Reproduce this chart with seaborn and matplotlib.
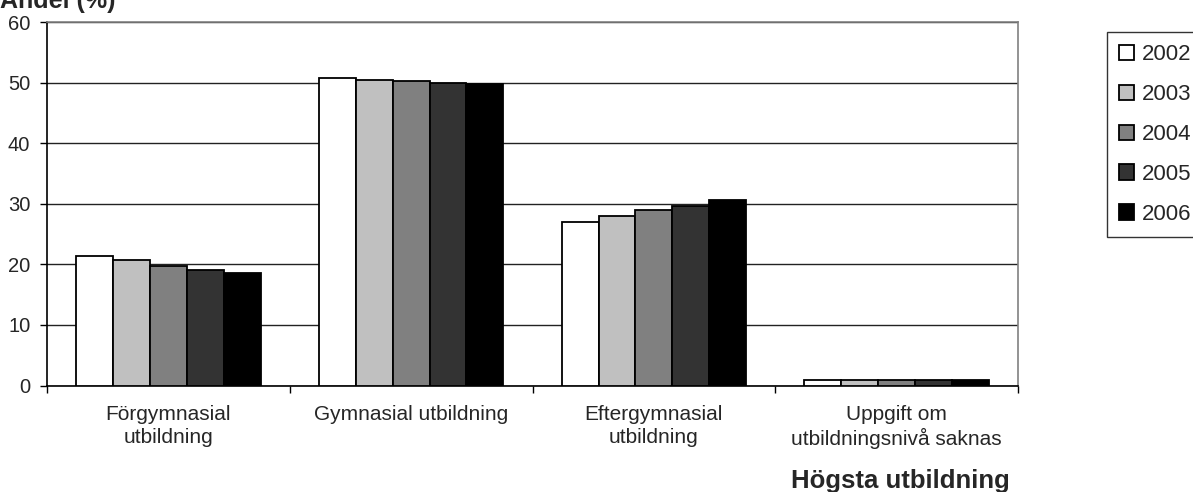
"""
Andel (%) efter högsta utbildning, 2002-2006.
"""
import matplotlib
matplotlib.use('Agg')
import matplotlib.pyplot as plt
import seaborn as sns
import pandas as pd

categories = ['Förgymnasial\nutbildning', 'Gymnasial utbildning',
              'Eftergymnasial\nutbildning', 'Uppgift om\nutbildningsnivå saknas']
years = ['2002', '2003', '2004', '2005', '2006']
values = {
    '2002': [21.4, 50.7, 27.0, 0.9],
    '2003': [20.7, 50.4, 27.9, 0.9],
    '2004': [19.7, 50.3, 28.9, 0.9],
    '2005': [19.1, 50.0, 29.7, 0.9],
    '2006': [18.5, 49.8, 30.6, 0.9],
}
colors = ['#FFFFFF', '#C0C0C0', '#808080', '#333333', '#000000']

rows = []
for y in years:
    for c, v in zip(categories, values[y]):
        rows.append({'cat': c, 'year': y, 'val': v})
df = pd.DataFrame(rows)

sns.set_style('white')
plt.rcParams['font.family'] = ['Liberation Sans', 'DejaVu Sans']

fig = plt.figure(figsize=(11.93, 4.92), dpi=100)
ax = fig.add_axes([47 / 1193, 1 - 385.5 / 492, (1018 - 47) / 1193, (385.5 - 22) / 492])

sns.barplot(data=df, x='cat', y='val', hue='year', palette=colors,
            width=0.76, edgecolor='black', linewidth=1.3, ax=ax,
            legend=False, zorder=3)

ax.set_xlim(-0.5, 3.5)
ax.set_ylim(0, 60)
ax.set_yticks(range(0, 61, 10))
ax.yaxis.grid(True, color='#222222', linewidth=1)
ax.set_axisbelow(True)
ax.set_xlabel('')
ax.set_ylabel('')

ax.tick_params(axis='y', which='major', length=5, width=1, color='black',
               labelsize=14.5, direction='out', left=True, pad=7)
ax.tick_params(axis='x', which='major', length=0, labelsize=15, pad=14)
for lbl in ax.get_xticklabels():
    lbl.set_linespacing(1.25)
ax.set_xticks([-0.5, 0.5, 1.5, 2.5, 3.5], minor=True)
ax.tick_params(axis='x', which='minor', length=5, width=1, color='black',
               direction='out', bottom=True)

for side in ['left', 'bottom']:
    ax.spines[side].set_color('black')
    ax.spines[side].set_linewidth(1.2)
for side in ['top', 'right']:
    ax.spines[side].set_color('#808080')
    ax.spines[side].set_linewidth(1.2)

fig.text(0.0, 1 - 8 / 492, 'Andel (%)', fontsize=18, fontweight='bold',
         va='baseline', ha='left')
fig.text(1010 / 1193, 1 - 488 / 492, 'Högsta utbildning', fontsize=18.5,
         fontweight='bold', va='baseline', ha='right')

handles = [plt.Rectangle((0, 0), 1, 1, facecolor=c, edgecolor='black', linewidth=1.3)
           for c in colors]
leg = fig.legend(handles, years, loc='upper left',
                 bbox_to_anchor=(1107 / 1193, 1 - 32 / 492),
                 fontsize=16, frameon=True, fancybox=False, edgecolor='black',
                 handlelength=0.68, handleheight=0.68, handletextpad=0.35,
                 labelspacing=0.85, borderpad=0.55, borderaxespad=0)
leg.get_frame().set_linewidth(1)

fig.savefig('out.png', dpi=100)
